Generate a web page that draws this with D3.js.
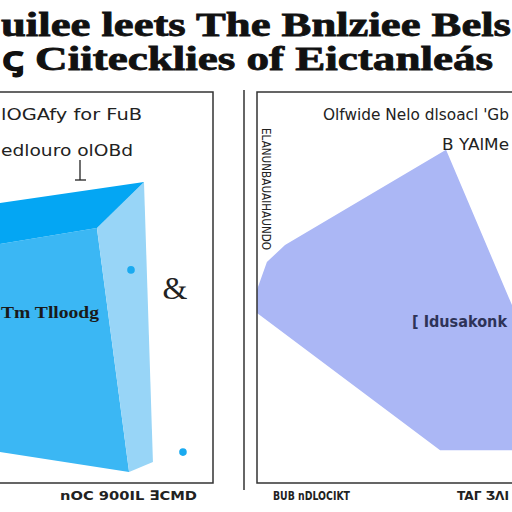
<!DOCTYPE html>
<html>
<head>
<meta charset="utf-8">
<script src="https://cdn.jsdelivr.net/npm/d3@7"></script>
<style>
  body { margin: 0; background: #fff; }
</style>
</head>
<body>
<div id="body"></div>
<script>
// ---- data (chart units, 0-100 on both axes) ----
var titleLines = ["uilee leets The Bnlziee Bels", "ꞔ Ciitecklies of Eictanleás"];
var leftNotes = ["lOGAfy for FuB", "edlouro olOBd"];
var leftBarLabel = "Tm Tlloodg";
var leftGlyph = "&";
var leftAxisLabel = "nOC 900IL ∃CMD";
var rightNotes = ["Olfwide Nelo dlsoacl 'Gb", "B YAlMe"];
var rightAreaLabel = "[ Idusakonk";
var rightYLabel = "ELANUNBAUAIHAUNDO";
var rightAxisLabels = ["BUB nDLOCIKT", "TAΓ ƷΛI"];

// 3D block faces
var blockTop = [[0, 71.6], [67.6, 77.0], [45.5, 65.2], [0, 61.1]];
var blockFront = [[0, 61.1], [45.5, 65.2], [60.6, 2.8], [0, 7.9]];
var blockSide = [[45.5, 65.2], [67.6, 77.0], [71.8, 5.4], [60.6, 2.8]];
var leftDots = [[61.5, 54.5], [85.9, 7.9]];

// area shape in the right panel
var areaPoints = [[66.8, 85.2], [90.1, 45.5], [100, 39.1], [100, 8.4], [64.7, 8.4],
                  [0, 43.5], [0, 49.4], [3.5, 56.5], [9.9, 60.9]];

var width = 512;
var height = 512;

var svg = d3
  .select("#body")
  .append("svg")
  .attr("width", width)
  .attr("height", height);

var frameColor = "#333";
var fontColor = "#222";
var sans = "DejaVu Sans, sans-serif";
var serif = "Liberation Serif, serif";

// scales
var yScale = d3.scaleLinear().domain([0, 100]).range([483, 92]);
var xLeft = d3.scaleLinear().domain([0, 100]).range([0, 213]);
var xRight = d3.scaleLinear().domain([0, 100]).range([257, 540]);

// ---- title ----
var titleEnds = [[1, 511], [2, 493]];
svg
  .selectAll("text.title")
  .data(titleLines)
  .enter()
  .append("text")
  .attr("class", "title")
  .attr("x", function (d, i) { return titleEnds[i][0]; })
  .attr("y", function (d, i) { return 36 + i * 34; })
  .attr("textLength", function (d, i) { return titleEnds[i][1] - titleEnds[i][0]; })
  .attr("lengthAdjust", "spacingAndGlyphs")
  .attr("font-size", 33)
  .attr("font-weight", "bold")
  .style("font-family", serif)
  .attr("fill", "#111")
  .attr("stroke", "#111")
  .attr("stroke-width", 0.8)
  .text(function (d) { return d; });

// ---- left panel ----
var left = svg.append("g");

left.append("path")
  .attr("d", "M-2,92 H213 V483 H-2")
  .attr("fill", "none")
  .attr("stroke", frameColor)
  .attr("stroke-width", 1.5);

var faceLine = d3.line()
  .x(function (d) { return xLeft(d[0]); })
  .y(function (d) { return yScale(d[1]); });

var faces = [
  { pts: blockFront, color: "#3bb7f4" },
  { pts: blockSide, color: "#98d5f7" },
  { pts: blockTop, color: "#04a6f3" }
];

left
  .selectAll("path.face")
  .data(faces)
  .enter()
  .append("path")
  .attr("class", "face")
  .attr("d", function (d) { return faceLine(d.pts) + "Z"; })
  .attr("fill", function (d) { return d.color; });

left
  .selectAll("circle")
  .data(leftDots)
  .enter()
  .append("circle")
  .attr("cx", function (d) { return xLeft(d[0]); })
  .attr("cy", function (d) { return yScale(d[1]); })
  .attr("r", 3.8)
  .attr("fill", "#1aaaf0");

var leftNoteSpan = [[1, 142], [1, 133]];
left
  .selectAll("text.note")
  .data(leftNotes)
  .enter()
  .append("text")
  .attr("class", "note")
  .attr("x", function (d, i) { return leftNoteSpan[i][0]; })
  .attr("y", function (d, i) { return 120 + i * 36; })
  .attr("textLength", function (d, i) { return leftNoteSpan[i][1] - leftNoteSpan[i][0]; })
  .attr("lengthAdjust", "spacingAndGlyphs")
  .attr("font-size", 16)
  .style("font-family", sans)
  .attr("fill", fontColor)
  .text(function (d) { return d; });

// pointer from note to the block
left.append("line")
  .attr("x1", 80).attr("y1", 160).attr("x2", 80).attr("y2", 180)
  .attr("stroke", fontColor).attr("stroke-width", 1.3);
left.append("line")
  .attr("x1", 75).attr("y1", 180).attr("x2", 86).attr("y2", 180)
  .attr("stroke", fontColor).attr("stroke-width", 1.3);

left.append("text")
  .attr("x", 1)
  .attr("y", 318)
  .attr("textLength", 98)
  .attr("lengthAdjust", "spacingAndGlyphs")
  .attr("font-size", 17)
  .attr("font-weight", "bold")
  .style("font-family", serif)
  .attr("fill", "#1a1a1a")
  .text(leftBarLabel);

left.append("text")
  .attr("x", 175)
  .attr("y", 299)
  .attr("text-anchor", "middle")
  .attr("font-size", 32)
  .style("font-family", serif)
  .attr("fill", fontColor)
  .text(leftGlyph);

left.append("text")
  .attr("x", 60)
  .attr("y", 500)
  .attr("textLength", 137)
  .attr("lengthAdjust", "spacingAndGlyphs")
  .attr("font-size", 13)
  .attr("font-weight", "bold")
  .style("font-family", sans)
  .attr("fill", fontColor)
  .text(leftAxisLabel);

// ---- right panel ----
var right = svg.append("g");

right.append("line")
  .attr("x1", 244).attr("y1", 90).attr("x2", 244).attr("y2", 490)
  .attr("stroke", frameColor).attr("stroke-width", 1.5);

var areaLine = d3.line()
  .x(function (d) { return xRight(d[0]); })
  .y(function (d) { return yScale(d[1]); });

right.append("path")
  .attr("d", areaLine(areaPoints) + "Z")
  .attr("fill", "#abb7f5");

right.append("path")
  .attr("d", "M520,92 H257 V483 H520")
  .attr("fill", "none")
  .attr("stroke", frameColor)
  .attr("stroke-width", 1.5);

var rightNoteSpan = [[323, 509], [442, 509]];
right
  .selectAll("text.note")
  .data(rightNotes)
  .enter()
  .append("text")
  .attr("class", "note")
  .attr("x", function (d, i) { return rightNoteSpan[i][0]; })
  .attr("y", function (d, i) { return 120 + i * 30; })
  .attr("textLength", function (d, i) { return rightNoteSpan[i][1] - rightNoteSpan[i][0]; })
  .attr("lengthAdjust", "spacingAndGlyphs")
  .attr("font-size", 15)
  .style("font-family", sans)
  .attr("fill", fontColor)
  .text(function (d) { return d; });

right.append("text")
  .attr("transform", "translate(262,128) rotate(90)")
  .attr("textLength", 122)
  .attr("lengthAdjust", "spacingAndGlyphs")
  .attr("font-size", 13)
  .style("font-family", sans)
  .attr("fill", fontColor)
  .text(rightYLabel);

right.append("text")
  .attr("x", 412)
  .attr("y", 327)
  .attr("textLength", 95)
  .attr("lengthAdjust", "spacingAndGlyphs")
  .attr("font-size", 15)
  .attr("font-weight", "bold")
  .style("font-family", sans)
  .attr("fill", "#2e3358")
  .text(rightAreaLabel);

var rightAxisSpan = [[273, 350], [457, 509]];
right
  .selectAll("text.axis")
  .data(rightAxisLabels)
  .enter()
  .append("text")
  .attr("class", "axis")
  .attr("x", function (d, i) { return rightAxisSpan[i][0]; })
  .attr("y", 500)
  .attr("textLength", function (d, i) { return rightAxisSpan[i][1] - rightAxisSpan[i][0]; })
  .attr("lengthAdjust", "spacingAndGlyphs")
  .attr("font-size", 12)
  .attr("font-weight", "bold")
  .style("font-family", sans)
  .attr("fill", fontColor)
  .text(function (d) { return d; });
</script>
</body>
</html>
